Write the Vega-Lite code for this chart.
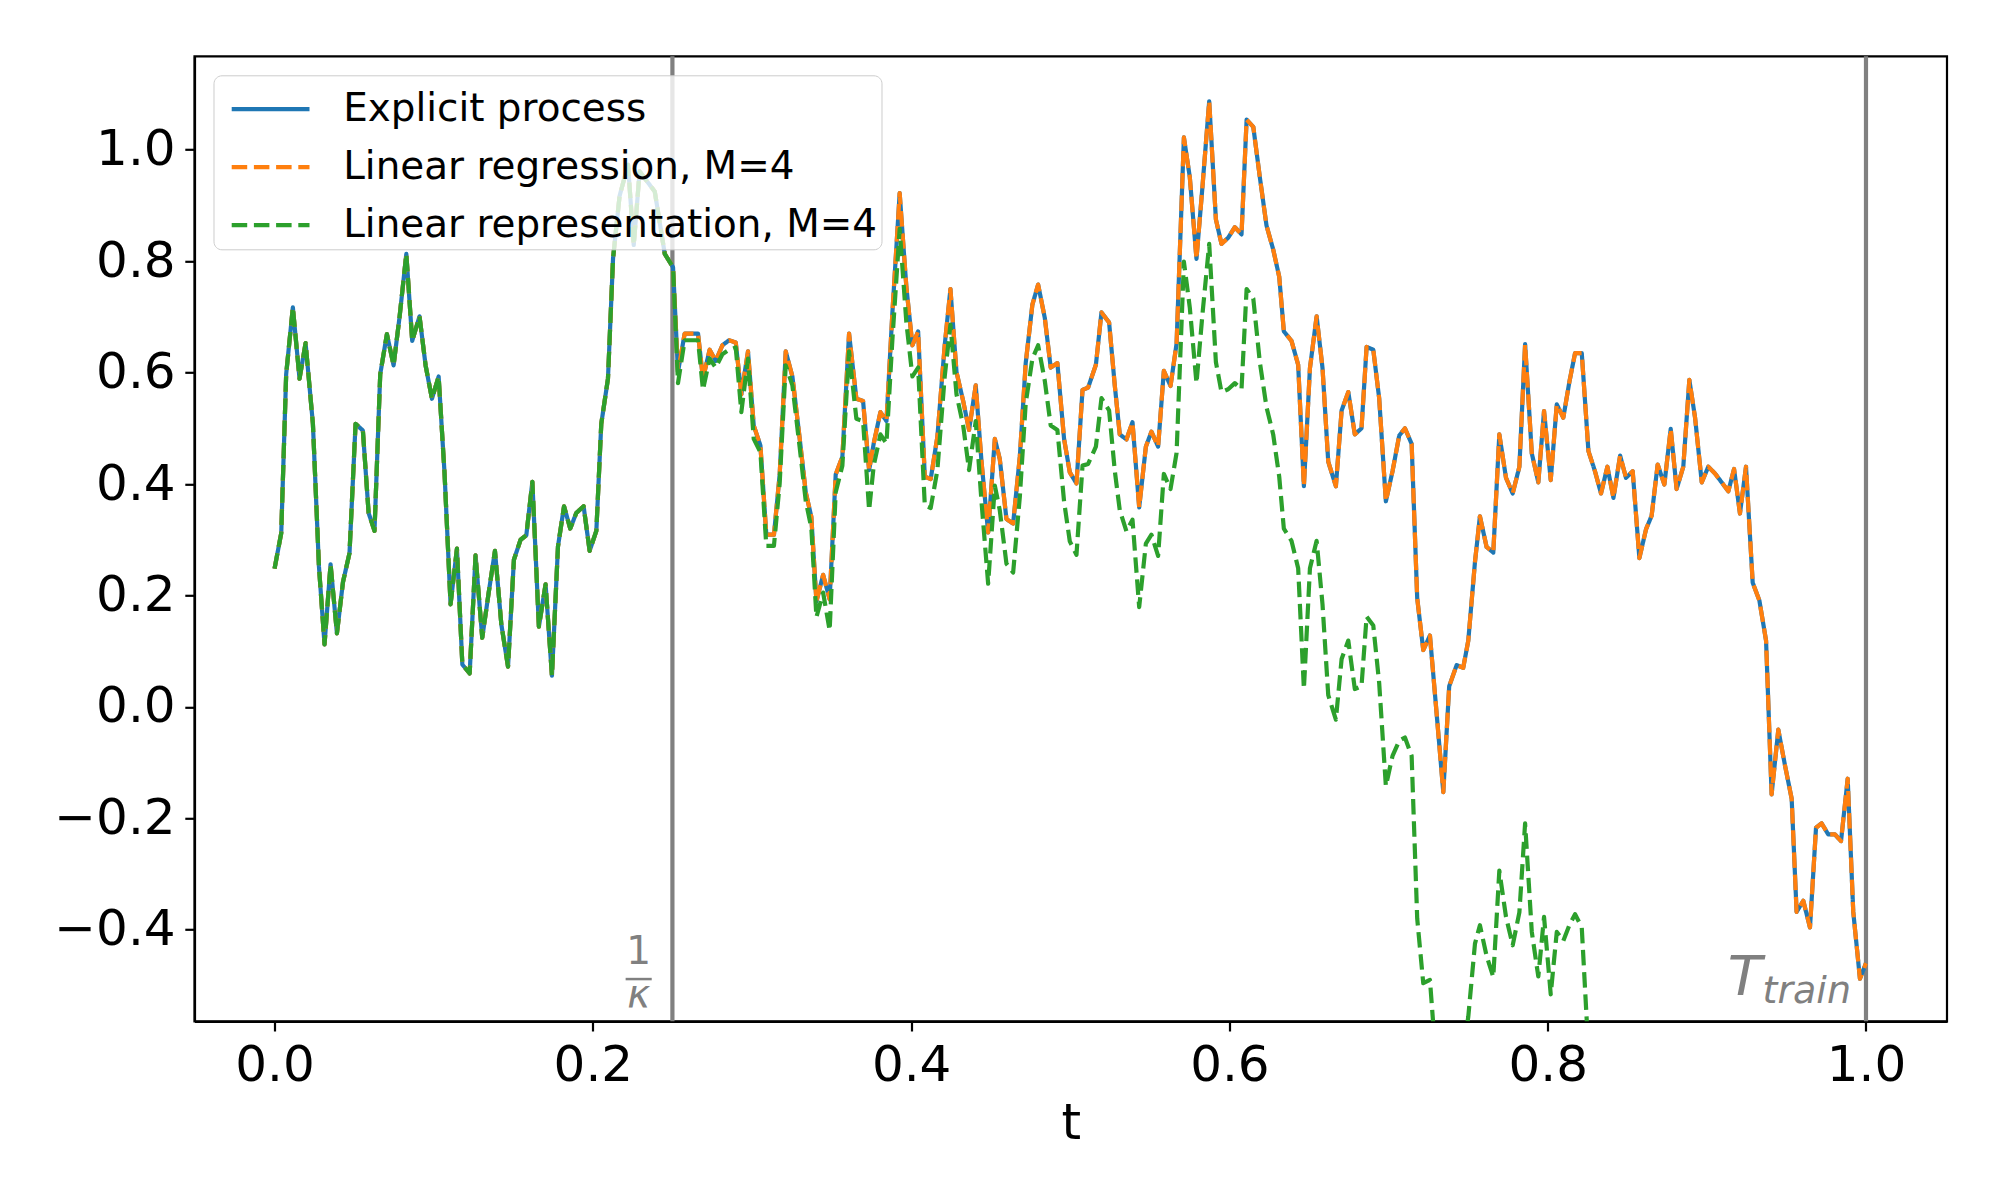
{
  "$schema": "https://vega.github.io/schema/vega-lite/v6.json",
  "width": 1752.5,
  "height": 965,
  "padding": {"left": 53.5, "top": 53.3, "right": 50, "bottom": 20},
  "background": "white",
  "config": {
    "view": {"stroke": "black", "strokeWidth": 2.2},
    "font": "DejaVu Sans",
    "axis": {
      "labelFont": "DejaVu Sans", "labelFontSize": 50, "labelColor": "black",
      "tickColor": "black", "tickSize": 9.7, "tickWidth": 2.2,
      "domainColor": "black", "domainWidth": 2.2, "labelPadding": 9.7,
      "grid": false, "labelFlush": false, "labelOverlap": false,
      "titleFont": "DejaVu Sans", "titleFontSize": 50, "titleFontWeight": "normal", "titleColor": "black"
    },
    "legend": {
      "title": null, "orient": "top-left", "offset": 19.4,
      "symbolType": "M-1,-0.3H1", "symbolSize": 6053, "symbolStrokeWidth": 4.2, "symbolOffset": 11.6,
      "labelFont": "DejaVu Sans", "labelFontSize": 38.9, "labelColor": "black", "labelBaseline": "alphabetic",
      "labelOffset": 31.1, "rowPadding": 8, "padding": 4, "labelLimit": 0,
      "fillColor": "rgba(255,255,255,0.8)", "strokeColor": "#cccccc", "cornerRadius": 8
    }
  },
  "encoding": {
    "x": {
      "field": "t", "type": "quantitative",
      "scale": {"domain": [-0.0503, 1.0509], "nice": false, "zero": false},
      "axis": {"title": "t", "values": [0, 0.2, 0.4, 0.6, 0.8, 1.0], "format": ".1f", "titlePadding": 8}
    },
    "y": {
      "field": "v", "type": "quantitative",
      "scale": {"domain": [-0.5644, 1.1677], "nice": false, "zero": false},
      "axis": {"title": null, "values": [-0.4, -0.2, 0, 0.2, 0.4, 0.6, 0.8, 1.0], "format": ".1f"}
    }
  },
  "layer": [
    {
      "data": {"values": [
        {"t": 0.25, "v": -0.5644, "v2": 1.1677},
        {"t": 1.0, "v": -0.5644, "v2": 1.1677}
      ]},
      "mark": {"type": "rule", "color": "#808080", "strokeWidth": 4.2},
      "encoding": {"y2": {"field": "v2"}}
    },
    {
      "data": {"values": [
        {"t":0.0,"a":0.248,"b":0.248,"c":0.248},
        {"t":0.0042,"a":0.312,"b":0.312,"c":0.312},
        {"t":0.0073,"a":0.597,"b":0.597,"c":0.597},
        {"t":0.0115,"a":0.717,"b":0.717,"c":0.717},
        {"t":0.0157,"a":0.589,"b":0.589,"c":0.589},
        {"t":0.0195,"a":0.653,"b":0.653,"c":0.653},
        {"t":0.0241,"a":0.508,"b":0.508,"c":0.508},
        {"t":0.0279,"a":0.252,"b":0.252,"c":0.252},
        {"t":0.0314,"a":0.112,"b":0.112,"c":0.112},
        {"t":0.0352,"a":0.256,"b":0.256,"c":0.256},
        {"t":0.0392,"a":0.132,"b":0.132,"c":0.132},
        {"t":0.043,"a":0.224,"b":0.224,"c":0.224},
        {"t":0.0471,"a":0.276,"b":0.276,"c":0.276},
        {"t":0.0509,"a":0.508,"b":0.508,"c":0.508},
        {"t":0.0555,"a":0.496,"b":0.496,"c":0.496},
        {"t":0.0591,"a":0.348,"b":0.348,"c":0.348},
        {"t":0.0628,"a":0.316,"b":0.316,"c":0.316},
        {"t":0.0664,"a":0.597,"b":0.597,"c":0.597},
        {"t":0.0706,"a":0.669,"b":0.669,"c":0.669},
        {"t":0.0748,"a":0.613,"b":0.613,"c":0.613},
        {"t":0.0786,"a":0.701,"b":0.701,"c":0.701},
        {"t":0.0828,"a":0.813,"b":0.813,"c":0.813},
        {"t":0.0865,"a":0.657,"b":0.657,"c":0.657},
        {"t":0.0911,"a":0.701,"b":0.701,"c":0.701},
        {"t":0.0949,"a":0.613,"b":0.613,"c":0.613},
        {"t":0.0989,"a":0.553,"b":0.553,"c":0.553},
        {"t":0.1031,"a":0.593,"b":0.593,"c":0.593},
        {"t":0.1068,"a":0.42,"b":0.42,"c":0.42},
        {"t":0.1106,"a":0.184,"b":0.184,"c":0.184},
        {"t":0.1146,"a":0.284,"b":0.284,"c":0.284},
        {"t":0.118,"a":0.076,"b":0.076,"c":0.076},
        {"t":0.1226,"a":0.06,"b":0.06,"c":0.06},
        {"t":0.1263,"a":0.272,"b":0.272,"c":0.272},
        {"t":0.1305,"a":0.124,"b":0.124,"c":0.124},
        {"t":0.1345,"a":0.204,"b":0.204,"c":0.204},
        {"t":0.1385,"a":0.28,"b":0.28,"c":0.28},
        {"t":0.1425,"a":0.148,"b":0.148,"c":0.148},
        {"t":0.1467,"a":0.072,"b":0.072,"c":0.072},
        {"t":0.1504,"a":0.264,"b":0.264,"c":0.264},
        {"t":0.1546,"a":0.3,"b":0.3,"c":0.3},
        {"t":0.1582,"a":0.308,"b":0.308,"c":0.308},
        {"t":0.162,"a":0.404,"b":0.404,"c":0.404},
        {"t":0.1661,"a":0.144,"b":0.144,"c":0.144},
        {"t":0.1703,"a":0.22,"b":0.22,"c":0.22},
        {"t":0.1743,"a":0.056,"b":0.056,"c":0.056},
        {"t":0.1781,"a":0.288,"b":0.288,"c":0.288},
        {"t":0.1819,"a":0.36,"b":0.36,"c":0.36},
        {"t":0.1858,"a":0.32,"b":0.32,"c":0.32},
        {"t":0.1896,"a":0.348,"b":0.348,"c":0.348},
        {"t":0.1942,"a":0.36,"b":0.36,"c":0.36},
        {"t":0.198,"a":0.28,"b":0.28,"c":0.28},
        {"t":0.2022,"a":0.316,"b":0.316,"c":0.316},
        {"t":0.2053,"a":0.508,"b":0.508,"c":0.508},
        {"t":0.2095,"a":0.589,"b":0.589,"c":0.589},
        {"t":0.2127,"a":0.805,"b":0.805,"c":0.805},
        {"t":0.2168,"a":0.917,"b":0.917,"c":0.917},
        {"t":0.2221,"a":0.973,"b":0.973,"c":0.973},
        {"t":0.2257,"a":0.829,"b":0.829,"c":0.829},
        {"t":0.2294,"a":0.961,"b":0.961,"c":0.961},
        {"t":0.2336,"a":0.945,"b":0.945,"c":0.945},
        {"t":0.2389,"a":0.925,"b":0.925,"c":0.925},
        {"t":0.2452,"a":0.813,"b":0.813,"c":0.813},
        {"t":0.2504,"a":0.789,"b":0.789,"c":0.789},
        {"t":0.2535,"a":0.601,"b":0.601,"c":0.581},
        {"t":0.2577,"a":0.67,"b":0.67,"c":0.658},
        {"t":0.2661,"a":0.67,"b":0.67,"c":0.658},
        {"t":0.2692,"a":0.589,"b":0.589,"c":0.569},
        {"t":0.2734,"a":0.641,"b":0.641,"c":0.625},
        {"t":0.2772,"a":0.621,"b":0.621,"c":0.609},
        {"t":0.2814,"a":0.649,"b":0.649,"c":0.633},
        {"t":0.2856,"a":0.658,"b":0.658,"c":0.641},
        {"t":0.2898,"a":0.654,"b":0.654,"c":0.645},
        {"t":0.2933,"a":0.561,"b":0.561,"c":0.529},
        {"t":0.2975,"a":0.638,"b":0.638,"c":0.625},
        {"t":0.3011,"a":0.505,"b":0.505,"c":0.481},
        {"t":0.3053,"a":0.469,"b":0.469,"c":0.457},
        {"t":0.309,"a":0.309,"b":0.309,"c":0.289},
        {"t":0.3138,"a":0.309,"b":0.309,"c":0.289},
        {"t":0.3174,"a":0.417,"b":0.417,"c":0.401},
        {"t":0.3212,"a":0.638,"b":0.638,"c":0.613},
        {"t":0.3254,"a":0.593,"b":0.593,"c":0.577},
        {"t":0.33,"a":0.481,"b":0.481,"c":0.465},
        {"t":0.3338,"a":0.385,"b":0.385,"c":0.369},
        {"t":0.3373,"a":0.341,"b":0.341,"c":0.321},
        {"t":0.3405,"a":0.189,"b":0.189,"c":0.161},
        {"t":0.3447,"a":0.237,"b":0.237,"c":0.205},
        {"t":0.3488,"a":0.193,"b":0.193,"c":0.137},
        {"t":0.3526,"a":0.417,"b":0.417,"c":0.385},
        {"t":0.3568,"a":0.449,"b":0.449,"c":0.433},
        {"t":0.361,"a":0.67,"b":0.67,"c":0.638},
        {"t":0.3656,"a":0.553,"b":0.553,"c":0.517},
        {"t":0.3698,"a":0.549,"b":0.549,"c":0.513},
        {"t":0.3736,"a":0.425,"b":0.425,"c":0.353},
        {"t":0.3765,"a":0.473,"b":0.473,"c":0.433},
        {"t":0.3807,"a":0.529,"b":0.529,"c":0.489},
        {"t":0.3845,"a":0.513,"b":0.513,"c":0.473},
        {"t":0.3882,"a":0.706,"b":0.706,"c":0.658},
        {"t":0.3928,"a":0.922,"b":0.922,"c":0.858},
        {"t":0.397,"a":0.754,"b":0.754,"c":0.69},
        {"t":0.4008,"a":0.649,"b":0.649,"c":0.593},
        {"t":0.4044,"a":0.674,"b":0.674,"c":0.609},
        {"t":0.4086,"a":0.413,"b":0.413,"c":0.361},
        {"t":0.4123,"a":0.409,"b":0.409,"c":0.357},
        {"t":0.4165,"a":0.485,"b":0.485,"c":0.425},
        {"t":0.4211,"a":0.649,"b":0.649,"c":0.593},
        {"t":0.4247,"a":0.75,"b":0.75,"c":0.686},
        {"t":0.4285,"a":0.601,"b":0.601,"c":0.561},
        {"t":0.4327,"a":0.549,"b":0.549,"c":0.505},
        {"t":0.4364,"a":0.497,"b":0.497,"c":0.425},
        {"t":0.4406,"a":0.577,"b":0.577,"c":0.513},
        {"t":0.4442,"a":0.441,"b":0.441,"c":0.369},
        {"t":0.4484,"a":0.313,"b":0.313,"c":0.221},
        {"t":0.4526,"a":0.481,"b":0.481,"c":0.397},
        {"t":0.4557,"a":0.445,"b":0.445,"c":0.353},
        {"t":0.4599,"a":0.337,"b":0.337,"c":0.257},
        {"t":0.4641,"a":0.329,"b":0.329,"c":0.241},
        {"t":0.4683,"a":0.449,"b":0.449,"c":0.377},
        {"t":0.472,"a":0.617,"b":0.617,"c":0.545},
        {"t":0.4762,"a":0.722,"b":0.722,"c":0.625},
        {"t":0.4798,"a":0.758,"b":0.758,"c":0.649},
        {"t":0.484,"a":0.698,"b":0.698,"c":0.585},
        {"t":0.4877,"a":0.609,"b":0.609,"c":0.505},
        {"t":0.4919,"a":0.617,"b":0.617,"c":0.497},
        {"t":0.4961,"a":0.481,"b":0.481,"c":0.369},
        {"t":0.4997,"a":0.421,"b":0.421,"c":0.297},
        {"t":0.5039,"a":0.401,"b":0.401,"c":0.273},
        {"t":0.5077,"a":0.569,"b":0.569,"c":0.433},
        {"t":0.5112,"a":0.573,"b":0.573,"c":0.436},
        {"t":0.5161,"a":0.614,"b":0.614,"c":0.467},
        {"t":0.5196,"a":0.708,"b":0.708,"c":0.554},
        {"t":0.5244,"a":0.69,"b":0.69,"c":0.532},
        {"t":0.528,"a":0.576,"b":0.576,"c":0.423},
        {"t":0.5311,"a":0.489,"b":0.489,"c":0.353},
        {"t":0.5353,"a":0.48,"b":0.48,"c":0.315},
        {"t":0.5391,"a":0.511,"b":0.511,"c":0.336},
        {"t":0.5433,"a":0.358,"b":0.358,"c":0.179},
        {"t":0.5475,"a":0.467,"b":0.467,"c":0.293},
        {"t":0.551,"a":0.494,"b":0.494,"c":0.309},
        {"t":0.5552,"a":0.467,"b":0.467,"c":0.271},
        {"t":0.5588,"a":0.603,"b":0.603,"c":0.418},
        {"t":0.563,"a":0.576,"b":0.576,"c":0.391},
        {"t":0.5668,"a":0.652,"b":0.652,"c":0.456},
        {"t":0.5714,"a":1.022,"b":1.022,"c":0.799},
        {"t":0.5751,"a":0.951,"b":0.951,"c":0.717},
        {"t":0.5793,"a":0.804,"b":0.804,"c":0.581},
        {"t":0.5831,"a":0.935,"b":0.935,"c":0.706},
        {"t":0.5873,"a":1.087,"b":1.087,"c":0.831},
        {"t":0.5915,"a":0.875,"b":0.875,"c":0.619},
        {"t":0.595,"a":0.831,"b":0.831,"c":0.565},
        {"t":0.5992,"a":0.842,"b":0.842,"c":0.57},
        {"t":0.6034,"a":0.861,"b":0.861,"c":0.581},
        {"t":0.6076,"a":0.848,"b":0.848,"c":0.57},
        {"t":0.6108,"a":1.054,"b":1.054,"c":0.75},
        {"t":0.615,"a":1.041,"b":1.041,"c":0.733},
        {"t":0.6191,"a":0.951,"b":0.951,"c":0.619},
        {"t":0.6233,"a":0.864,"b":0.864,"c":0.538},
        {"t":0.6275,"a":0.821,"b":0.821,"c":0.489},
        {"t":0.6313,"a":0.772,"b":0.772,"c":0.413},
        {"t":0.6342,"a":0.674,"b":0.674,"c":0.32},
        {"t":0.639,"a":0.657,"b":0.657,"c":0.298},
        {"t":0.6432,"a":0.614,"b":0.614,"c":0.249},
        {"t":0.6468,"a":0.396,"b":0.396,"c":0.032},
        {"t":0.6506,"a":0.608,"b":0.608,"c":0.249},
        {"t":0.6548,"a":0.701,"b":0.701,"c":0.298},
        {"t":0.6585,"a":0.608,"b":0.608,"c":0.184},
        {"t":0.6621,"a":0.44,"b":0.44,"c":0.021},
        {"t":0.6669,"a":0.396,"b":0.396,"c":-0.023},
        {"t":0.6705,"a":0.532,"b":0.532,"c":0.086},
        {"t":0.6747,"a":0.565,"b":0.565,"c":0.119},
        {"t":0.6788,"a":0.489,"b":0.489,"c":0.032},
        {"t":0.683,"a":0.5,"b":0.5,"c":0.037},
        {"t":0.6862,"a":0.646,"b":0.646,"c":0.162},
        {"t":0.6904,"a":0.641,"b":0.641,"c":0.146},
        {"t":0.6941,"a":0.554,"b":0.554,"c":0.043},
        {"t":0.6983,"a":0.369,"b":0.369,"c":-0.142},
        {"t":0.7025,"a":0.423,"b":0.423,"c":-0.088},
        {"t":0.7067,"a":0.487,"b":0.487,"c":-0.061},
        {"t":0.7103,"a":0.5,"b":0.5,"c":-0.055},
        {"t":0.7145,"a":0.472,"b":0.472,"c":-0.088},
        {"t":0.718,"a":0.195,"b":0.195,"c":-0.38},
        {"t":0.7218,"a":0.102,"b":0.102,"c":-0.496},
        {"t":0.726,"a":0.128,"b":0.128,"c":-0.49},
        {"t":0.7302,"a":-0.012,"b":-0.012,"c":-0.65},
        {"t":0.7344,"a":-0.153,"b":-0.153,"c":-0.75},
        {"t":0.7381,"a":0.037,"b":0.037,"c":-0.72},
        {"t":0.7428,"a":0.075,"b":0.075,"c":-0.68},
        {"t":0.7469,"a":0.07,"b":0.07,"c":-0.62},
        {"t":0.7501,"a":0.119,"b":0.119,"c":-0.556},
        {"t":0.7543,"a":0.26,"b":0.26,"c":-0.425},
        {"t":0.7574,"a":0.342,"b":0.342,"c":-0.392},
        {"t":0.7616,"a":0.287,"b":0.287,"c":-0.447},
        {"t":0.7658,"a":0.277,"b":0.277,"c":-0.485},
        {"t":0.7696,"a":0.489,"b":0.489,"c":-0.294},
        {"t":0.7738,"a":0.411,"b":0.411,"c":-0.377},
        {"t":0.778,"a":0.383,"b":0.383,"c":-0.428},
        {"t":0.7822,"a":0.431,"b":0.431,"c":-0.369},
        {"t":0.7858,"a":0.651,"b":0.651,"c":-0.209},
        {"t":0.79,"a":0.455,"b":0.455,"c":-0.404},
        {"t":0.7941,"a":0.403,"b":0.403,"c":-0.484},
        {"t":0.7977,"a":0.531,"b":0.531,"c":-0.377},
        {"t":0.8019,"a":0.407,"b":0.407,"c":-0.516},
        {"t":0.8057,"a":0.543,"b":0.543,"c":-0.404},
        {"t":0.8098,"a":0.519,"b":0.519,"c":-0.42},
        {"t":0.8136,"a":0.583,"b":0.583,"c":-0.392},
        {"t":0.8172,"a":0.635,"b":0.635,"c":-0.372},
        {"t":0.8214,"a":0.635,"b":0.635,"c":-0.396},
        {"t":0.8256,"a":0.459,"b":0.459,"c":-0.62},
        {"t":0.8297,"a":0.423,"b":0.423,"c":-0.72},
        {"t":0.8335,"a":0.383,"b":0.383},
        {"t":0.8375,"a":0.431,"b":0.431},
        {"t":0.8413,"a":0.375,"b":0.375},
        {"t":0.8455,"a":0.451,"b":0.451},
        {"t":0.8492,"a":0.411,"b":0.411},
        {"t":0.8534,"a":0.423,"b":0.423},
        {"t":0.8576,"a":0.267,"b":0.267},
        {"t":0.8618,"a":0.319,"b":0.319},
        {"t":0.8653,"a":0.343,"b":0.343},
        {"t":0.8691,"a":0.435,"b":0.435},
        {"t":0.8733,"a":0.399,"b":0.399},
        {"t":0.8773,"a":0.499,"b":0.499},
        {"t":0.881,"a":0.391,"b":0.391},
        {"t":0.8852,"a":0.431,"b":0.431},
        {"t":0.889,"a":0.587,"b":0.587},
        {"t":0.8926,"a":0.519,"b":0.519},
        {"t":0.8968,"a":0.403,"b":0.403},
        {"t":0.9009,"a":0.431,"b":0.431},
        {"t":0.9051,"a":0.419,"b":0.419},
        {"t":0.9093,"a":0.403,"b":0.403},
        {"t":0.9135,"a":0.387,"b":0.387},
        {"t":0.9171,"a":0.427,"b":0.427},
        {"t":0.9208,"a":0.347,"b":0.347},
        {"t":0.9246,"a":0.431,"b":0.431},
        {"t":0.9288,"a":0.223,"b":0.223},
        {"t":0.933,"a":0.191,"b":0.191},
        {"t":0.9372,"a":0.119,"b":0.119},
        {"t":0.9407,"a":-0.157,"b":-0.157},
        {"t":0.9449,"a":-0.041,"b":-0.041},
        {"t":0.9491,"a":-0.105,"b":-0.105},
        {"t":0.9533,"a":-0.165,"b":-0.165},
        {"t":0.9564,"a":-0.368,"b":-0.368},
        {"t":0.9606,"a":-0.348,"b":-0.348},
        {"t":0.9648,"a":-0.396,"b":-0.396},
        {"t":0.9686,"a":-0.217,"b":-0.217},
        {"t":0.9721,"a":-0.209,"b":-0.209},
        {"t":0.9763,"a":-0.229,"b":-0.229},
        {"t":0.9805,"a":-0.229,"b":-0.229},
        {"t":0.9843,"a":-0.241,"b":-0.241},
        {"t":0.9885,"a":-0.129,"b":-0.129},
        {"t":0.992,"a":-0.368,"b":-0.368},
        {"t":0.9962,"a":-0.488,"b":-0.488},
        {"t":1.0,"a":-0.46,"b":-0.46}
      ]},
      "transform": [
        {"fold": ["a", "b", "c"], "as": ["s", "v"]},
        {"filter": "isValid(datum.v)"}
      ],
      "mark": {"type": "line", "strokeWidth": 4.2, "clip": true, "strokeCap": "butt", "strokeJoin": "round"},
      "encoding": {
        "color": {
          "field": "s", "type": "nominal",
          "scale": {"domain": ["a", "b", "c"], "range": ["#1f77b4", "#ff7f0e", "#2ca02c"]},
          "legend": {
            "labelExpr": "datum.label == 'a' ? 'Explicit process' : datum.label == 'b' ? 'Linear regression, M=4' : 'Linear representation, M=4'"
          }
        },
        "strokeDash": {
          "field": "s", "type": "nominal",
          "scale": {"domain": ["a", "b", "c"], "range": [[1, 0], [15.5, 6.7], [15.5, 6.7]]},
          "legend": {
            "labelExpr": "datum.label == 'a' ? 'Explicit process' : datum.label == 'b' ? 'Linear regression, M=4' : 'Linear representation, M=4'"
          }
        }
      }
    },
    {
      "data": {"values": [{"t": 0.2206, "t2": 0.237, "v": -0.4886}]},
      "mark": {"type": "rule", "color": "#808080", "strokeWidth": 2.5},
      "encoding": {"x2": {"field": "t2"}}
    },
    {
      "data": {"values": [{"t": 0.2288, "v": -0.44, "txt": "1"}]},
      "mark": {"type": "text", "color": "#808080", "fontSize": 39, "font": "DejaVu Sans", "align": "center", "baseline": "middle"},
      "encoding": {"text": {"field": "txt"}}
    },
    {
      "data": {"values": [{"t": 0.2288, "v": -0.518, "txt": "κ"}]},
      "mark": {"type": "text", "color": "#808080", "fontSize": 39, "font": "DejaVu Sans", "fontStyle": "italic", "align": "center", "baseline": "middle"},
      "encoding": {"text": {"field": "txt"}}
    },
    {
      "data": {"values": [{"t": 0.9346, "v": -0.5173, "txt": "T"}]},
      "mark": {"type": "text", "color": "#808080", "fontSize": 56, "font": "DejaVu Sans", "fontStyle": "italic", "align": "right", "baseline": "alphabetic"},
      "encoding": {"text": {"field": "txt"}}
    },
    {
      "data": {"values": [{"t": 0.935, "v": -0.5317, "txt": "train"}]},
      "mark": {"type": "text", "color": "#808080", "fontSize": 38, "font": "DejaVu Sans", "fontStyle": "italic", "align": "left", "baseline": "alphabetic"},
      "encoding": {"text": {"field": "txt"}}
    }
  ]
}
